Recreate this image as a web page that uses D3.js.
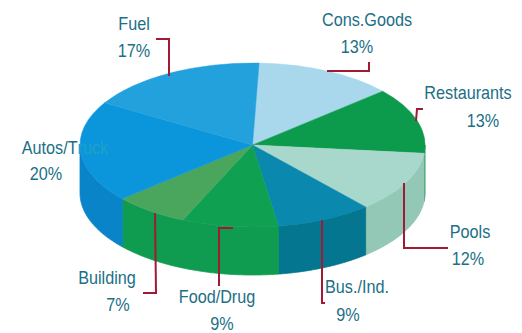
<!DOCTYPE html>
<html>
<head>
<meta charset="utf-8">
<style>
  html, body { margin: 0; padding: 0; background: #fff; }
  svg { display: block; }
  text { font-family: "Liberation Sans", sans-serif; font-size: 18px; text-anchor: middle; fill: #1b6f86; }
</style>
</head>
<body>
<svg id="chart" width="522" height="333"></svg>
<script src="https://cdn.jsdelivr.net/npm/d3@7/dist/d3.min.js"></script>
<script>
// Market share by segment, clockwise from the top of the pie
const categories = ["Cons.Goods", "Restaurants", "Pools", "Bus./Ind.", "Food/Drug", "Building", "Autos/Truck", "Fuel"];
const shares = [13, 13, 12, 9, 9, 7, 20, 17];
const topColors = ["#a9d8ec", "#0c9a4c", "#a8d8cc", "#0a88ae", "#0fa052", "#4aa65c", "#0b96dc", "#22a1dd"];
const sideColors = ["#8fc6de", "#0a8a44", "#94c8b6", "#04768f", "#0f9c50", "#0f9c50", "#0a84c8", "#1a90cc"];

// Placement of each label: name and percent lines plus its leader line
const labelLayout = [
  { name: [367, 26], pct: [357, 53], leader: [[327, 71], [369, 71], [369, 62]] },
  { name: [468, 99], pct: [483, 127], leader: [[423, 109], [417, 109], [416, 121]] },
  { name: [470, 238], pct: [468, 265], leader: [[404, 183], [404, 248], [448, 248]] },
  { name: [357, 293], pct: [348, 321], leader: [[322, 220], [322, 303], [325, 303]] },
  { name: [217, 303], pct: [222, 330], leader: [[233, 228], [219, 228], [219, 286]] },
  { name: [107, 284], pct: [118, 311], leader: [[155, 213], [156, 293], [143, 293]] },
  { name: [65, 154], pct: [46, 180], leader: null },
  { name: [134, 30], pct: [134, 57], leader: [[156, 39], [169, 39], [169, 76]] }
];

const centerX = 252.5, centerY = 145, radiusX = 172.5, radiusY = 82, depth = 48;
const startAngle = 2.2 * Math.PI / 180;
const textSqueeze = 0.9;

const svg = d3.select("#chart");
const slices = d3.pie().value(d => d).sort(null)
  .startAngle(startAngle).endAngle(startAngle + 2 * Math.PI)(shares);

// Side wall: only the front half of the rim (angles between 90 and 270 degrees) is visible
const px = a => centerX + radiusX * Math.sin(a);
const py = a => centerY - radiusY * Math.cos(a);
const wall = d3.area().x(px).y0(py).y1(a => py(a) + depth);
const walls = slices.map((s, i) => {
  const from = Math.max(s.startAngle, Math.PI / 2);
  const to = Math.min(s.endAngle, 3 * Math.PI / 2);
  if (to <= from) return null;
  const steps = d3.range(from, to, 0.01).concat(to);
  return { path: wall(steps), color: sideColors[i] };
}).filter(Boolean);

svg.append("g").selectAll("path").data(walls).join("path")
  .attr("d", d => d.path)
  .attr("fill", d => d.color)
  .attr("stroke", d => d.color)
  .attr("stroke-width", 0.8);

// Top face: a unit pie flattened into an ellipse
const arc = d3.arc().innerRadius(0).outerRadius(1);
svg.append("g")
  .attr("transform", `translate(${centerX},${centerY}) scale(${radiusX},${radiusY})`)
  .selectAll("path").data(slices).join("path")
  .attr("d", arc)
  .attr("fill", (d, i) => topColors[i])
  .attr("stroke", (d, i) => topColors[i])
  .attr("stroke-width", 0.5)
  .attr("vector-effect", "non-scaling-stroke");

// Leader lines
const leaderLine = d3.line();
svg.append("g").selectAll("path")
  .data(labelLayout.filter(d => d.leader)).join("path")
  .attr("d", d => leaderLine(d.leader))
  .attr("fill", "none")
  .attr("stroke", "#a11a33")
  .attr("stroke-width", 2);

// Labels: segment name and percent share, in a narrowed face
const at = ([x, y]) => `translate(${x},${y}) scale(${textSqueeze},1)`;
const labels = svg.append("g").selectAll("g").data(categories).join("g");
labels.append("text")
  .attr("transform", (d, i) => at(labelLayout[i].name))
  .each(function (d) {
    // The part of a name that runs over the pie is tinted close to the slice colour
    const cut = d === "Autos/Truck" ? 7 : d.length;
    const t = d3.select(this);
    t.append("tspan").text(d.slice(0, cut));
    if (cut < d.length) t.append("tspan").attr("fill", "#1ea2c4").text(d.slice(cut));
  });
labels.append("text")
  .attr("transform", (d, i) => at(labelLayout[i].pct))
  .text((d, i) => shares[i] + "%");
</script>
</body>
</html>
